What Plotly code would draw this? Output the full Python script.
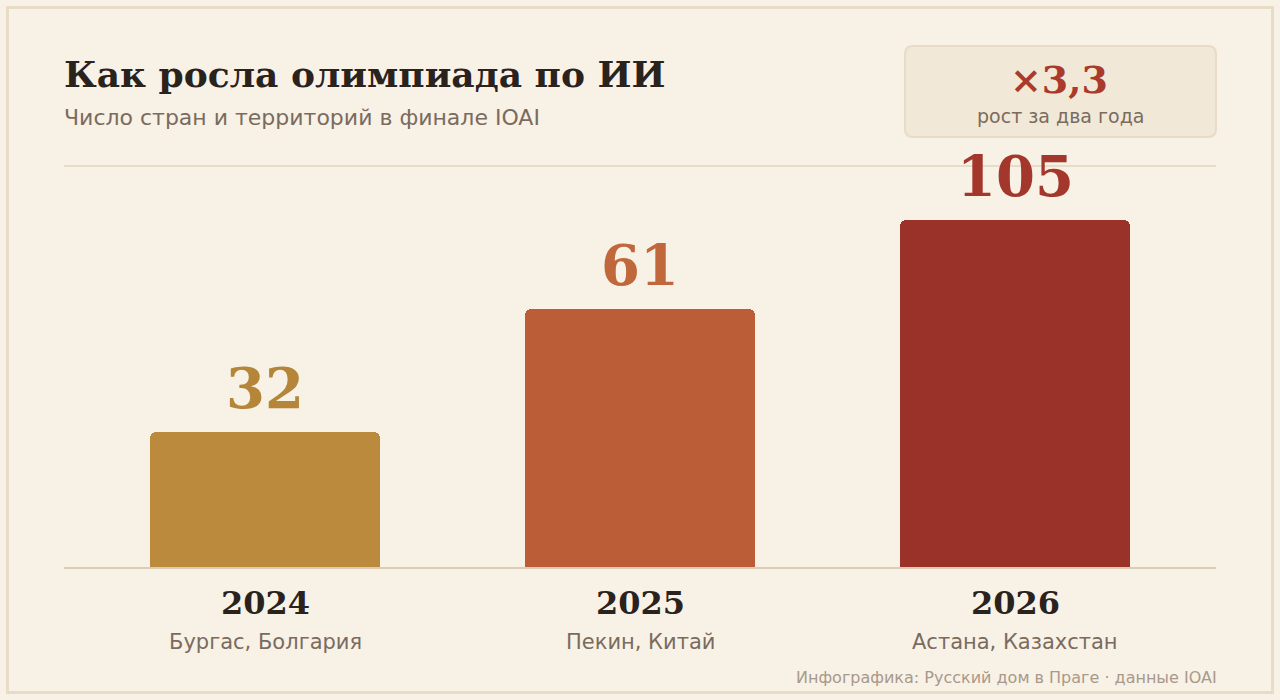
import plotly.graph_objects as go

# ---------- data ----------
years = ["2024", "2025", "2026"]
places = ["Бургас, Болгария", "Пекин, Китай", "Астана, Казахстан"]
countries = [32, 61, 105]
growth_label = "×3,3"

# full-height of the bar area corresponds to this value; taller bars stop there
SCALE_MAX = 82
bar_h = [min(v, SCALE_MAX) for v in countries]

bar_colors = ["#bb8a3c", "#bb5e38", "#9b3229"]
label_colors = ["#b5863a", "#c0683c", "#a4372b"]

# ---------- geometry helpers (pixels -> paper) ----------
W, H = 1280, 700
L, R, T, B = 64, 64, 220, 132
PW, PH = W - L - R, H - T - B


def px(x):
    return (x - L) / PW


def py(y):
    return (H - B - y) / PH


def rounded_rect(x0, y0, x1, y1, r):
    # rounded rectangle path in paper coords from pixel box
    rx, ry = r / PW, r / PH
    a, b, c, d = px(x0), py(y1), px(x1), py(y0)
    return (f"M{a+rx},{b} L{c-rx},{b} Q{c},{b} {c},{b+ry} L{c},{d-ry} "
            f"Q{c},{d} {c-rx},{d} L{a+rx},{d} Q{a},{d} {a},{d-ry} "
            f"L{a},{b+ry} Q{a},{b} {a+rx},{b} Z")


SERIF = "DejaVu Serif"
SANS = "DejaVu Sans"

fig = go.Figure()
fig.add_bar(
    x=years, y=bar_h, width=0.613,
    marker=dict(color=bar_colors, line_width=0, cornerradius=6),
    hoverinfo="skip", showlegend=False,
)

# value labels above bars (category index used for x)
for i, (h, v, col) in enumerate(zip(bar_h, countries, label_colors)):
    fig.add_annotation(x=i, y=h, text=f"<b>{v}</b>", showarrow=False,
                       xanchor="center", yanchor="bottom", yshift=9,
                       font=dict(family=SERIF, size=56, color=col))

# year + place under the baseline
for i, (yr, pl) in enumerate(zip(years, places)):
    fig.add_annotation(x=i, y=0, text=f"<b>{yr}</b>", showarrow=False,
                       xanchor="center", yanchor="middle", yshift=-35,
                       font=dict(family=SERIF, size=32, color="#2a221d"))
    fig.add_annotation(x=i, y=0, text=pl, showarrow=False,
                       xanchor="center", yanchor="middle", yshift=-74,
                       font=dict(family=SANS, size=21, color="#7a6b5e"))

# title block
fig.add_annotation(x=0, y=py(74), xref="paper", yref="paper", xanchor="left",
                   yanchor="middle", showarrow=False, xshift=-2,
                   text="<b>Как росла олимпиада по ИИ</b>",
                   font=dict(family=SERIF, size=36, color="#2a221d"))
fig.add_annotation(x=0, y=py(118), xref="paper", yref="paper", xanchor="left",
                   yanchor="middle", showarrow=False, xshift=-2,
                   text="Число стран и территорий в финале IOAI",
                   font=dict(family=SANS, size=22, color="#7a6b5e"))

# growth badge
fig.add_shape(type="path", xref="paper", yref="paper", layer="below",
              path=rounded_rect(905, 46, 1216, 137, 8),
              fillcolor="#f1e8d7", line=dict(color="#e8dcc6", width=2))
fig.add_annotation(x=px(1059), y=py(80), xref="paper", yref="paper",
                   showarrow=False, xanchor="center", yanchor="middle",
                   text=f"<b>{growth_label}</b>",
                   font=dict(family=SERIF, size=38, color="#a93a2c"))
fig.add_annotation(x=px(1060.5), y=py(116), xref="paper", yref="paper",
                   showarrow=False, xanchor="center", yanchor="middle",
                   text="рост за два года",
                   font=dict(family=SANS, size=19, color="#7a6b5e"))

# footer
fig.add_annotation(x=1, y=py(677), xref="paper", yref="paper", xanchor="right",
                   yanchor="middle", showarrow=False, xshift=3,
                   text="Инфографика: Русский дом в Праге · данные IOAI",
                   font=dict(family=SANS, size=16, color="#a8998b"))

# rules
fig.add_shape(type="line", xref="paper", yref="paper", layer="below",
              x0=0, x1=1, y0=py(166), y1=py(166),
              line=dict(color="#e6dcc8", width=2))
fig.add_shape(type="line", xref="paper", yref="paper", layer="above",
              x0=0, x1=1, y0=0, y1=0,
              line=dict(color="#dacdb5", width=2))

# outer frame
fig.add_shape(type="rect", xref="paper", yref="paper", layer="below",
              x0=px(7.5), x1=px(1272.5), y0=py(692.5), y1=py(7.5),
              line=dict(color="#e8dcc6", width=3))

fig.update_layout(
    width=W, height=H,
    margin=dict(l=L, r=R, t=T, b=B),
    paper_bgcolor="#f8f1e6", plot_bgcolor="#f8f1e6",
    xaxis=dict(type="category", range=[-0.536, 2.536], visible=False),
    yaxis=dict(range=[0, SCALE_MAX], visible=False),
    bargap=0,
)

fig.write_html(
    "out.html",
    config={"displayModeBar": False},
    post_script="document.body.style.margin='0';"
                "document.body.style.background='#f8f1e6';",
)
